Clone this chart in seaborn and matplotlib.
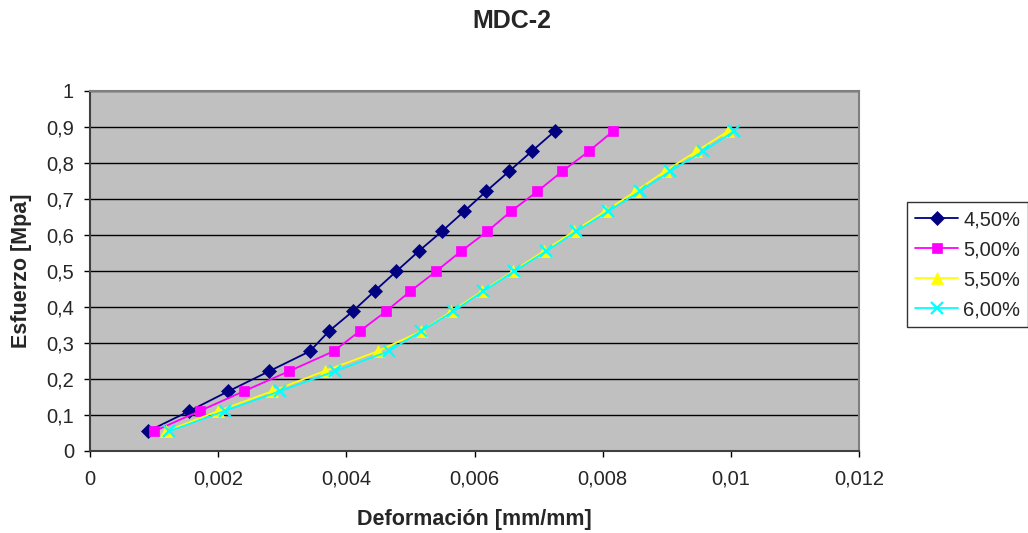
import matplotlib
matplotlib.use("Agg")
import matplotlib.pyplot as plt
import seaborn as sns
import pandas as pd
from matplotlib.ticker import FuncFormatter, MultipleLocator

stress = [0.055, 0.111, 0.166, 0.222, 0.277, 0.333, 0.388, 0.444,
          0.499, 0.555, 0.610, 0.666, 0.721, 0.777, 0.832, 0.888]

strain_450 = [0.00091, 0.00155, 0.00216, 0.00280, 0.00343, 0.00373, 0.00410, 0.00444,
              0.00478, 0.00513, 0.00549, 0.00584, 0.00618, 0.00654, 0.00689, 0.00725]
strain_500 = [0.00100, 0.00171, 0.00240, 0.00311, 0.00380, 0.00421, 0.00462, 0.00500,
              0.00540, 0.00579, 0.00620, 0.00657, 0.00698, 0.00737, 0.00778, 0.00816]
strain_550 = [0.00119, 0.00200, 0.00284, 0.00366, 0.00449, 0.00517, 0.00564, 0.00612,
              0.00660, 0.00708, 0.00755, 0.00804, 0.00851, 0.00897, 0.00946, 0.00995]
strain_600 = [0.00124, 0.00210, 0.00296, 0.00383, 0.00466, 0.00517, 0.00567, 0.00614,
              0.00662, 0.00712, 0.00759, 0.00809, 0.00858, 0.00905, 0.00956, 0.01005]

labels = ["4,50%", "5,00%", "5,50%", "6,00%"]
colors = ["#000080", "#FF00FF", "#FFFF00", "#00FFFF"]
markers = ["D", "s", "^", "x"]
msizes = [7, 7.5, 8.5, 9]

series = [strain_450, strain_500, strain_550, strain_600]
frames = []
for lab, xs in zip(labels, series):
    frames.append(pd.DataFrame({"strain": xs, "stress": stress, "serie": lab}))
df = pd.concat(frames, ignore_index=True)

sns.set_style("white")
plt.rcParams['font.family'] = ['Liberation Sans', 'DejaVu Sans']

W, H = 1028, 533
fig = plt.figure(figsize=(W / 100, H / 100), dpi=100)
ax = fig.add_axes([90 / W, 1 - 451 / H, (859 - 90) / W, (451 - 91) / H])
ax.set_facecolor("#C0C0C0")

for lab, c, m, ms in zip(labels, colors, markers, msizes):
    sub = df[df["serie"] == lab]
    sns.lineplot(data=sub, x="strain", y="stress", ax=ax, color=c, marker=m,
                 markersize=ms, markeredgecolor=c,
                 markeredgewidth=1.6 if m == "x" else 0.5,
                 linewidth=1.3, label=lab, sort=False, estimator=None)

ax.set_xlim(0, 0.012)
ax.set_ylim(0, 1)
ax.xaxis.set_major_locator(MultipleLocator(0.002))
ax.yaxis.set_major_locator(MultipleLocator(0.1))


def fmt(v, pos):
    if abs(v) < 1e-12:
        return "0"
    s = ("%.3f" % v).rstrip("0").rstrip(".")
    return s.replace(".", ",")


ax.xaxis.set_major_formatter(FuncFormatter(fmt))
ax.yaxis.set_major_formatter(FuncFormatter(fmt))

ax.grid(axis="y", color="black", linewidth=1)
ax.grid(axis="x", visible=False)
ax.set_axisbelow(True)
for s in ["top", "right"]:
    ax.spines[s].set_color("#808080")
    ax.spines[s].set_linewidth(1.5)
for s in ["left", "bottom"]:
    ax.spines[s].set_color("#404040")
    ax.spines[s].set_linewidth(1.5)
ax.tick_params(axis="both", direction="out", length=4.5, width=1, color="black",
               labelsize=14.5, bottom=True, left=True)
ax.tick_params(axis="x", pad=9)
ax.tick_params(axis="y", pad=7)

ax.set_xlabel("Deformación [mm/mm]", fontsize=15.5, fontweight="bold")
ax.set_ylabel("Esfuerzo [Mpa]", fontsize=15.5, fontweight="bold")
ax.xaxis.set_label_coords(0, 1 - 519 / H, transform=fig.transFigure)
ax.xaxis.label.set_position((474 / W, 1 - 519 / H))
ax.xaxis.set_label_coords(474 / W, 1 - 519 / H, transform=fig.transFigure)
ax.xaxis.label.set_va("center")
ax.yaxis.set_label_coords(22 / W, 1 - 271 / H, transform=fig.transFigure)
ax.yaxis.label.set_va("center")

fig.text(512 / W, 1 - 21 / H, "MDC-2", ha="center", va="center",
         fontsize=18, fontweight="bold")

leg = ax.legend(loc="upper left", bbox_to_anchor=(907 / W, 1 - 202 / H),
                bbox_transform=fig.transFigure, frameon=True, fancybox=False,
                fontsize=14.5, handlelength=2.15, borderpad=0.4,
                labelspacing=0.55, handletextpad=0.25, borderaxespad=0)
leg.get_frame().set_edgecolor("black")
leg.get_frame().set_linewidth(1)

fig.savefig("out.png", dpi=100)
